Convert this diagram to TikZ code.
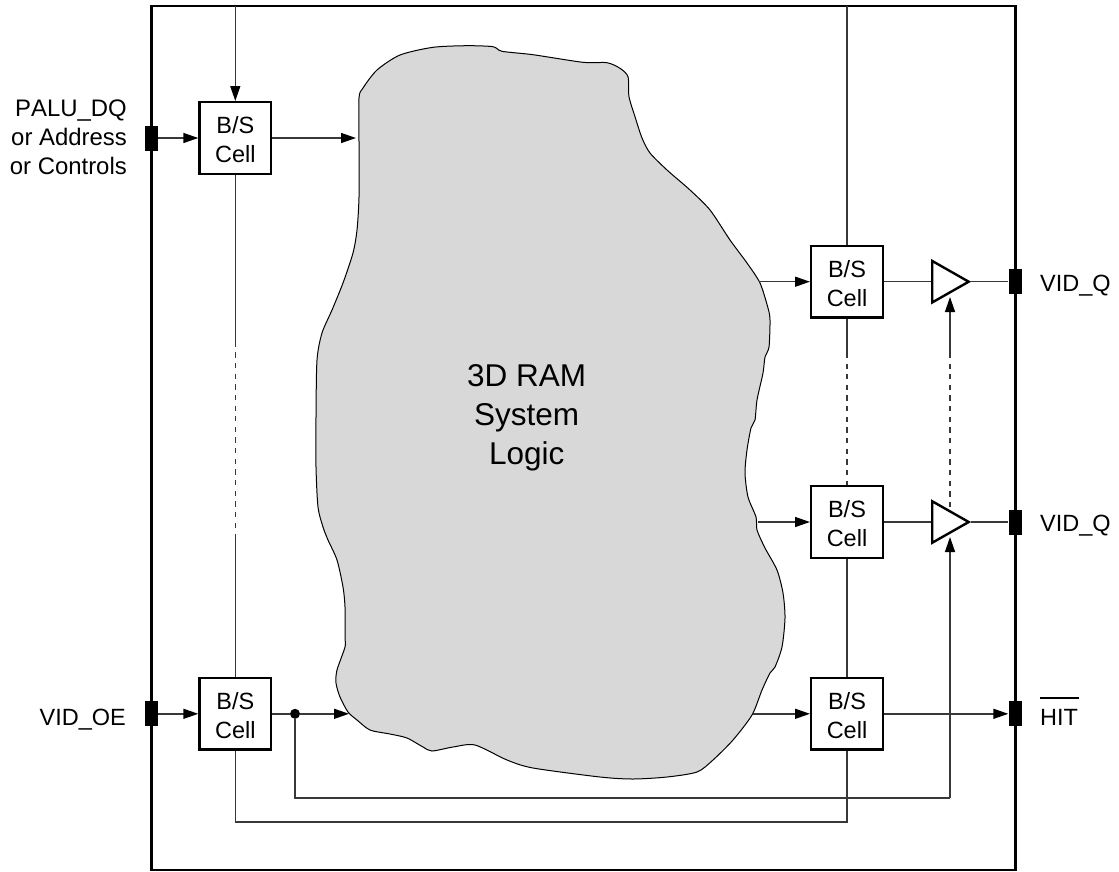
\documentclass[tikz,border=0pt]{standalone}
\usepackage{fontspec}
\setmainfont[Kerning=Off]{Liberation Sans}
\usetikzlibrary{arrows.meta,shapes.geometric}
\definecolor{blobgray}{HTML}{D8D8D8}
\tikzset{
  wire/.style={line width=1.4pt,draw=black!78},
  arrowwire/.style={wire,-{Triangle[length=15pt,width=10pt,color=black,fill=black]}},
  dashwire/.style={wire,dash pattern=on 5.33pt off 5.33pt},
  cellbox/.style={draw,fill=white,line width=2.4pt,minimum width=71.6pt,minimum height=71.6pt,inner sep=0pt,align=center,font=\fontsize{23.5pt}{29pt}\selectfont},
  pinbox/.style={fill=black,minimum width=13pt,minimum height=25pt,inner sep=0pt},
  driver/.style={draw,fill=white,line width=2.4pt,isosceles triangle,isosceles triangle apex angle=60,isosceles triangle stretches,minimum height=36.5pt,minimum width=41.5pt,inner sep=0pt,anchor=lower side},
  lbl/.style={inner sep=0pt,font=\fontsize{23.5pt}{29pt}\selectfont},
  dotnode/.style={circle,fill=black,minimum size=10pt,inner sep=0pt},
}
\newcommand{\firstline}{\rule{0pt}{21pt}}
\begin{document}
\begin{tikzpicture}[x=1pt,y=-1pt]
\useasboundingbox (0,0) rectangle (1119,871);
% system logic blob
\draw[fill=blobgray,line width=1pt] plot[smooth cycle,tension=0.45] coordinates {
 (359,98) (363,88) (377,70) (400,55) (433,47.3) (467,45.7) (493,46.7) (502,51.3)
 (533,54.7) (583,62.3) (607,62.7) (620,68.3) (628,76.7) (629,96.7) (635,116.7)
 (642,138) (650,153) (667,170) (690,190) (710,210) (730,240) (747,263) (760,283)
 (768,308) (770,320) (769,347) (765,357) (763,373) (757,400) (755,420) (751,428)
 (747,450) (745,473) (748,497) (756,517) (757,530) (765,548) (777,570) (783,593)
 (785,618) (782,647) (775,667) (770,673) (762,690) (752,715) (733,740) (713,760)
 (697,772) (667,777) (633,779) (600,777) (533,768) (507,760) (475,745) (453,747)
 (432,751) (423,747) (407,738) (390,734) (370,730) (357,720) (348,712) (340,697)
 (336,683) (337,670) (345,647) (345,637) (345,607) (343,587) (337,560) (328,540)
 (323,527) (318,507) (316,467) (316,417) (317,360) (322,333) (332,310) (343,283)
 (353,253) (357,230) (359,197) (359,143)};
\node[inner sep=0pt,align=center,font=\fontsize{31.5pt}{39pt}\selectfont] (logic) at (526.7,417.8) {3D RAM\\System\\Logic};
% frame
\node[draw,line width=2.6pt,minimum width=864pt,minimum height=864pt,inner sep=0pt,outer sep=0pt] (frame) at (583.2,438) {};
% cells
\node[cellbox] (c1) at (235.3,138) {\firstline B/S\\Cell};
\node[cellbox] (c2) at (847,281.7) {\firstline B/S\\Cell};
\node[cellbox] (c3) at (847,522) {\firstline B/S\\Cell};
\node[cellbox] (c4) at (847,713.8) {\firstline B/S\\Cell};
\node[cellbox] (c5) at (235.3,713.8) {\firstline B/S\\Cell};
% pins
\node[pinbox] (p1) at (151.2,138) {};
\node[pinbox] (p2) at (151.2,713.8) {};
\node[pinbox] (p3) at (1015,281.7) {};
\node[pinbox] (p4) at (1015,522) {};
\node[pinbox] (p5) at (1015,713.8) {};
% drivers
\node[driver] (d1) at (931,281.7) {};
\node[driver] (d2) at (931,522) {};
\node[dotnode] (dot) at (295,713.8) {};
% free ends
\coordinate (topA) at (235.3,6);
\coordinate (topB) at (847,6);
\coordinate (inA) at (356,138);
\coordinate (inB) at (349,713.8);
\coordinate (outA) at (759,281.7);
\coordinate (outB) at (758,522);
\coordinate (outC) at (753,713.8);
\coordinate (en1) at (950,297);
\coordinate (en2) at (950,537);
\coordinate (en2top) at (950,511);
\coordinate (busA) at (295,798);
\coordinate (busB) at (950,798);
\coordinate (busC) at (235.3,822);
\coordinate (busD) at (847,822);
\coordinate (la1) at (235.3,347);
\coordinate (la2) at (235.3,352.2);
\coordinate (la3) at (235.3,529);
\coordinate (la4) at (235.3,534);
\coordinate (ra1) at (847,358);
\coordinate (ra2) at (847,363.5);
\coordinate (rb1) at (950,358);
\coordinate (rb2) at (950,363.5);
% connectors
\draw[arrowwire] (topA) -- (c1.north);
\draw[arrowwire] (p1.east) -- (c1.west);
\draw[arrowwire] (c1.east) -- (inA);
\draw[wire] (c1.south) -- (la1);
\draw[dashwire] (la2) -- (la3);
\draw[wire] (la4) -- (c5.north);
\draw[arrowwire] (p2.east) -- (c5.west);
\draw[wire] (c5.east) -- (dot);
\draw[arrowwire] (dot) -- (inB);
\draw[wire] (dot) -- (busA) -- (busB);
\draw[arrowwire] (busB) -- (en2);
\draw[wire] (c5.south) -- (busC) -- (busD) -- (c4.south);
\draw[wire] (topB) -- (c2.north);
\draw[wire] (c2.south) -- (ra1);
\draw[dashwire] (ra2) -- (c3.north);
\draw[wire] (c3.south) -- (c4.north);
\draw[arrowwire] (outA) -- (c2.west);
\draw[arrowwire] (outB) -- (c3.west);
\draw[arrowwire] (outC) -- (c4.west);
\draw[wire] (c2.east) -- (d1.lower side);
\draw[wire] (c3.east) -- (d2.lower side);
\draw[wire] (d1.apex) -- (p3.west);
\draw[wire] (d2.apex) -- (p4.west);
\draw[arrowwire] (c4.east) -- (p5.west);
\draw[arrowwire] (rb1) -- (en1);
\draw[dashwire] (rb2) -- (en2top);
% labels
\node[lbl,align=right,anchor=east,font=\fontsize{23.9pt}{29pt}\selectfont] (l1) at (127,137.4) {PALU\_DQ\\or Address\\or Controls};
\node[lbl,anchor=base east] (l2) at (126,725) {VID\_OE};
\node[lbl,anchor=base west] (l3) at (1040,291) {VID\_Q};
\node[lbl,anchor=base west] (l4) at (1040,531) {VID\_Q};
\node[lbl,anchor=base west] (l5) at (1040,725) {\rlap{\raisebox{26.5pt}{\rule{39pt}{1.2pt}}}HIT};
\end{tikzpicture}
\end{document}
